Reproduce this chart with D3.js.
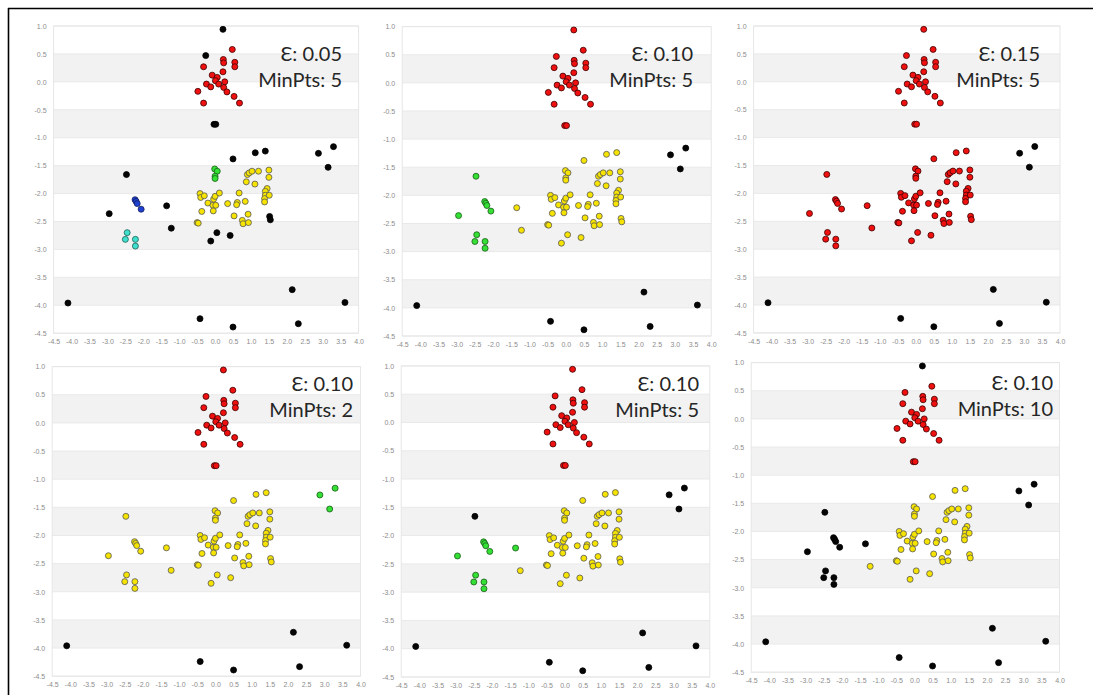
<!DOCTYPE html>
<html>
<head>
<meta charset="utf-8">
<script src="https://cdn.jsdelivr.net/npm/d3@7"></script>
<style>
  html, body { margin: 0; padding: 0; background: #fff; }
  svg { display: block; }
  .tick text { font-family: "Liberation Sans", Arial, sans-serif; font-size: 7px; fill: #8c8c8c; }
  .ann { font-family: Lato, "Noto Sans", sans-serif; font-size: 20px; fill: #262626; }
</style>
</head>
<body>
<svg id="chart" width="1093" height="695"></svg>
<script>
// ---- data (shared point set) ----
const xs = [
  0.22, 0.48, -0.26, 0.23, 0.24, 0.55, 0.55, -0.32, 0.22, -0.08, 0.06, 0.01, -0.24, 0.27, -0.12, 0.10, 0.24, 0.33, -0.48, 0.53, -0.32, 0.68, -0.03, 0.02,
  2.88, 3.30, 3.15,
  -4.10, -0.42, 0.50, 2.15, 2.32, 3.62,
  -2.47, -2.95, -2.23, -2.20, -2.17, -2.06, -2.45, -2.50, -2.22, -2.22, -1.35, -1.22,
  0.50, 1.12, 1.40, -0.12, 0.05, 0.42, 1.52, 1.54,
  -0.01, 0.06, 0.00, 0.00,
  -0.42, -0.40, -0.30, -0.37, -0.50, -0.47, -0.20, -0.06, -0.05, -0.04, 0.00, 0.02, 0.12, 0.35, 0.67, 0.62, 0.60, 0.53, 0.76, 0.78, 0.93, 0.92, 0.84, 0.87, 0.90, 0.95, 1.03, 1.21, 1.11, 1.50, 1.50, 1.45, 1.40, 1.40, 1.38, 1.38, 1.51
];
const ys = [
  0.94, 0.58, 0.47, 0.40, 0.34, 0.35, 0.27, 0.27, 0.18, 0.12, 0.08, 0.02, -0.04, 0.00, -0.09, -0.04, -0.10, -0.18, -0.17, -0.26, -0.38, -0.38, -0.76, -0.76,
  -1.28, -1.16, -1.53,
  -3.96, -4.24, -4.39, -3.72, -4.33, -3.95,
  -1.66, -2.36, -2.11, -2.14, -2.18, -2.28, -2.70, -2.82, -2.82, -2.94, -2.22, -2.62,
  -1.38, -1.27, -1.24, -2.85, -2.70, -2.75, -2.41, -2.47,
  -1.56, -1.60, -1.69, -1.73,
  -2.00, -2.07, -2.04, -2.32, -2.52, -2.53, -2.17, -2.21, -2.31, -2.10, -2.05, -2.21, -1.99, -2.18, -1.99, -2.16, -2.20, -2.40, -2.48, -2.54, -2.52, -2.37, -2.14, -1.79, -1.66, -1.63, -1.60, -1.60, -1.83, -1.58, -1.71, -1.91, -1.96, -2.03, -2.09, -2.15, -2.03
];
// cluster labels per panel (K noise, R red, Y yellow, G green, B blue, C cyan), one char per point
const Y37 = "YYYYYYYYYYYYYYYYYYYYYYYYYYYYYYYYYYYYY";
const R37 = "RRRRRRRRRRRRRRRRRRRRRRRRRRRRRRRRRRRRR";
const labels1 = "KRKRRRRRRRRRRRRRRRRRRRKK" + "KKK" + "KKKKKK" + "KKBBBBCCCCKK" + "KKKKKKKK" + "GGGG" + Y37;
const labels2 = "RRRRRRRRRRRRRRRRRRRRRRRR" + "KKK" + "KKKKKK" + "GGGGGGGGGGYY" + "YYYYYYYY" + "YYYY" + Y37;
const labels3 = "RRRRRRRRRRRRRRRRRRRRRRRR" + "KKK" + "KKKKKK" + "RRRRRRRRRRRR" + "RRRRRRRR" + "RRRR" + R37;
const labels4 = "RRRRRRRRRRRRRRRRRRRRRRRR" + "GGG" + "KKKKKK" + "YYYYYYYYYYYY" + "YYYYYYYY" + "YYYY" + Y37;
const labels5 = "RRRRRRRRRRRRRRRRRRRRRRRR" + "KKK" + "KKKKKK" + "KGGGGGGGGGGY" + "YYYYYYYY" + "YYYY" + Y37;
const labels6 = "KRRRRRRRRRRRRRRRRRRRRRRR" + "KKK" + "KKKKKK" + "KKKKKKKKKKKY" + "YYYYYYYY" + "YYYY" + Y37;
const epsilons = ["0.05", "0.10", "0.15", "0.10", "0.10", "0.10"];
const minPts = ["5", "5", "5", "2", "5", "10"];
const tickValues = d3.range(-4.5, 4.01, 0.5);
const yTickValues = d3.range(-4.5, 1.01, 0.5);

// ---- layout / style ----
const panels = [
  { x: [53.6, 358.6], y: [26, 333.2], tx: 342, ty: 61 },
  { x: [402.2, 711.2], y: [26.6, 336], tx: 693, ty: 61 },
  { x: [753.6, 1060], y: [26, 332.9], tx: 1040, ty: 61 },
  { x: [52.2, 360.5], y: [366.6, 676.2], tx: 353, ty: 391 },
  { x: [401.2, 709.8], y: [365.9, 677], tx: 699, ty: 391 },
  { x: [751.2, 1059.5], y: [362.6, 672.2], tx: 1053, ty: 390 }
];
const allLabels = [labels1, labels2, labels3, labels4, labels5, labels6];
const colors = { K: "#050505", R: "#f01010", Y: "#f6e400", G: "#33e033", B: "#2040d0", C: "#3ce0cc" };
const strokes = { K: "#000", R: "#3a0000", Y: "#555", G: "#1a5a1a", B: "#101e60", C: "#1e5e55" };

const svg = d3.select("#chart");
// outer frame (top + left only visible)
svg.append("line").attr("x1", 8).attr("x2", 1093).attr("y1", 8.5).attr("y2", 8.5).attr("stroke", "#000").attr("stroke-width", 1.6);
svg.append("line").attr("x1", 8.5).attr("x2", 8.5).attr("y1", 8).attr("y2", 695).attr("stroke", "#000").attr("stroke-width", 1.6);

panels.forEach((p, i) => {
  const x = d3.scaleLinear().domain([-4.5, 4.0]).range(p.x);
  const y = d3.scaleLinear().domain([1.0, -4.5]).range(p.y);
  const g = svg.append("g");

  // alternating bands
  const bands = [[0.5, 0.0], [-0.5, -1.0], [-1.5, -2.0], [-2.5, -3.0], [-3.5, -4.0]];
  g.selectAll("rect.band").data(bands).join("rect").attr("class", "band")
    .attr("x", x(-4.5)).attr("width", x(4.0) - x(-4.5))
    .attr("y", d => y(d[0])).attr("height", d => y(d[1]) - y(d[0]))
    .attr("fill", "#f2f2f2");
  // gridlines
  g.selectAll("line.grid").data(yTickValues).join("line").attr("class", "grid")
    .attr("x1", x(-4.5)).attr("x2", x(4.0))
    .attr("y1", d => y(d)).attr("y2", d => y(d))
    .attr("stroke", "#e9e9e9").attr("stroke-width", 1);
  // plot frame
  g.append("rect").attr("x", x(-4.5)).attr("y", y(1.0))
    .attr("width", x(4.0) - x(-4.5)).attr("height", y(-4.5) - y(1.0))
    .attr("fill", "none").attr("stroke", "#e6e6e6").attr("stroke-width", 1);

  // axes
  const fmt = d => d3.format(".1f")(d).replace("\u2212", "-");
  const xAxis = d3.axisBottom(x).tickValues(tickValues).tickSize(0).tickPadding(6).tickFormat(fmt);
  const yAxis = d3.axisLeft(y).tickValues(yTickValues).tickSize(0).tickPadding(7).tickFormat(fmt);
  const gx = g.append("g").attr("transform", `translate(0,${y(-4.5)})`).call(xAxis);
  const gy = g.append("g").attr("transform", `translate(${x(-4.5)},0)`).call(yAxis);
  gx.select(".domain").remove();
  gy.select(".domain").remove();

  // points
  const lab = allLabels[i];
  const pts = xs.map((v, k) => ({ x: v, y: ys[k], c: lab[k] }));
  g.selectAll("circle.pt").data(pts).join("circle").attr("class", "pt")
    .attr("cx", d => x(d.x)).attr("cy", d => y(d.y)).attr("r", 3.0)
    .attr("fill", d => colors[d.c]).attr("stroke", d => strokes[d.c]).attr("stroke-width", 0.8);

  // annotation
  const t = g.append("text").attr("class", "ann").attr("text-anchor", "end");
  t.append("tspan").attr("x", p.tx).attr("y", p.ty).text("\u0190: " + epsilons[i]);
  t.append("tspan").attr("x", p.tx).attr("y", p.ty + 26).text("MinPts: " + minPts[i]);
});
</script>
</body>
</html>
